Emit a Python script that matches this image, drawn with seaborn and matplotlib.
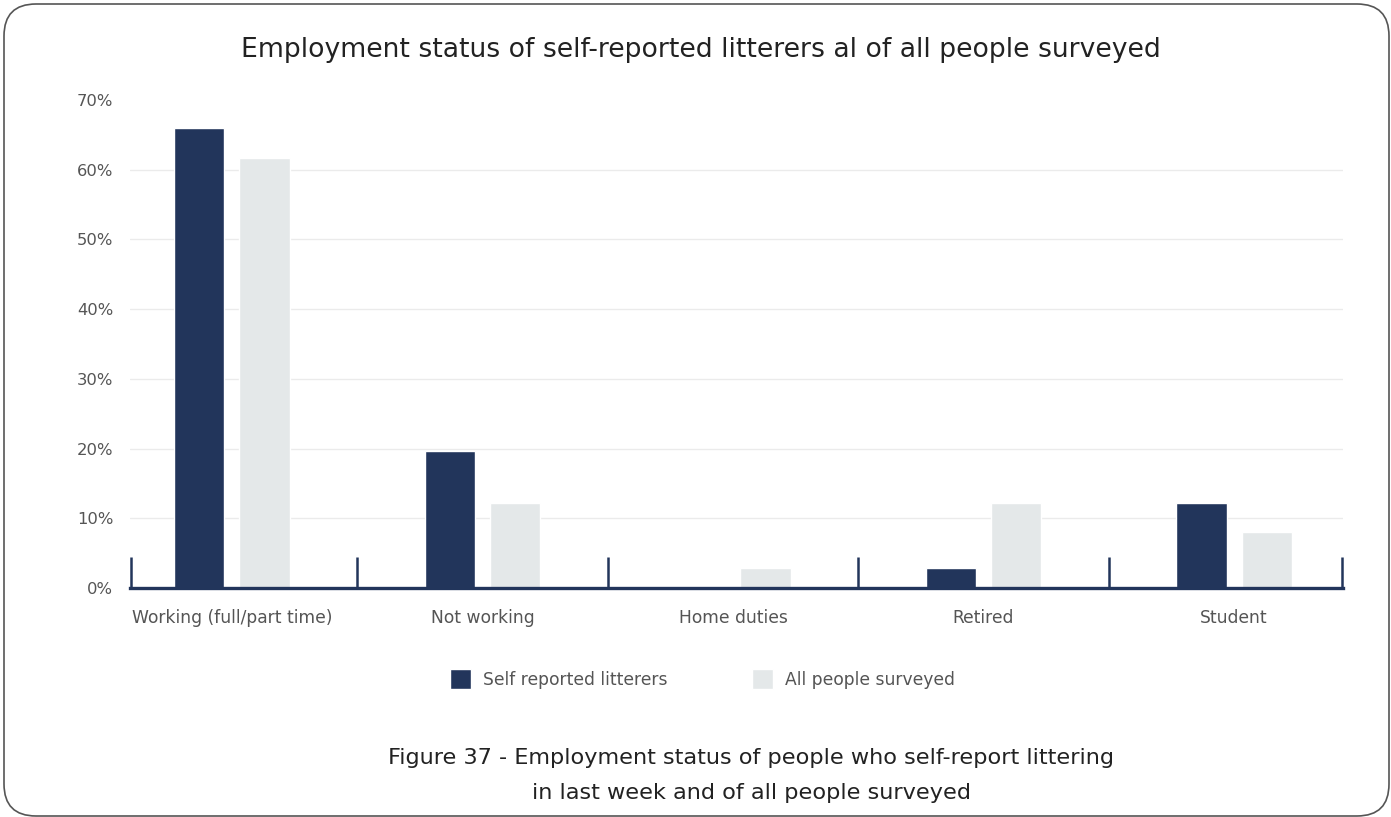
import matplotlib
matplotlib.use("Agg")
import matplotlib.pyplot as plt
from matplotlib.patches import FancyBboxPatch
from matplotlib.ticker import FixedLocator, PercentFormatter
import pandas as pd
import seaborn as sns

# donnees
categories = ["Working (full/part time)", "Not working", "Home duties", "Retired", "Student"]
litterers = [0.66, 0.197, 0.0, 0.029, 0.122]
all_people = [0.617, 0.122, 0.029, 0.122, 0.080]
groups = ["Self reported litterers", "All people surveyed"]

NAVY = "#22355B"
LIGHT = "#E4E8E9"
TXT = "#555555"

df = pd.DataFrame({
    "status": categories * 2,
    "value": litterers + all_people,
    "group": [groups[0]] * len(categories) + [groups[1]] * len(categories),
})

sns.set_theme(style="white")
plt.rcParams["font.family"] = ["DejaVu Sans"]

fig = plt.figure(figsize=(13.91, 8.17), dpi=100)
ax = fig.add_axes([130 / 1391, 1 - 588 / 817, (1343 - 130) / 1391, (588 - 100) / 817])

sns.barplot(data=df, x="status", y="value", hue="group", palette=[NAVY, LIGHT],
            width=0.52, gap=0.23, saturation=1, ax=ax)

ax.set_xlim(-0.407, 4.435)
ax.set_ylim(0, 0.70)
ax.set_yticks([i / 10 for i in range(8)])
ax.yaxis.set_major_formatter(PercentFormatter(1.0, decimals=0))
ax.set_xlabel("")
ax.set_ylabel("")

# grille horizontale claire, pas de ligne a 70%
ax.grid(axis="y", color="#EBEBEB", linewidth=1)
ax.set_axisbelow(True)
ax.yaxis.get_gridlines()[-1].set_visible(False)

for s in ["top", "right", "left"]:
    ax.spines[s].set_visible(False)
ax.spines["bottom"].set_color(NAVY)
ax.spines["bottom"].set_linewidth(2.4)

ax.tick_params(axis="y", length=0, pad=12, labelsize=11.8, labelcolor=TXT)
ax.tick_params(axis="x", which="major", length=0, pad=15, labelsize=12.3, labelcolor=TXT)
# petits traits verticaux entre les categories
ax.xaxis.set_minor_locator(FixedLocator([-0.404, 0.5, 1.5, 2.5, 3.5, 4.432]))
ax.tick_params(axis="x", which="minor", bottom=True, direction="in", length=22,
               width=1.8, color=NAVY)

sns.move_legend(ax, "center", bbox_to_anchor=(0.505, 1 - 679 / 817),
                bbox_transform=fig.transFigure, ncol=2, frameon=False, title=None,
                fontsize=12.3, handlelength=1.23, handleheight=1.35,
                handletextpad=0.75, columnspacing=4.9)
for t in ax.get_legend().get_texts():
    t.set_color(TXT)

fig.text(0.504, 1 - 50 / 817, "Employment status of self-reported litterers al of all people surveyed",
         ha="center", va="center", fontsize=19.2, color="#222222")
fig.text(0.54, 1 - 775.5 / 817,
         "Figure 37 - Employment status of people who self-report littering\nin last week and of all people surveyed",
         ha="center", va="center", fontsize=16.1, color="#222222",
         linespacing=1.95)

# cadre arrondi autour de la figure
frame = FancyBboxPatch((0.04, 0.01), 13.85, 8.12, boxstyle="round,pad=0,rounding_size=0.32",
                       transform=fig.dpi_scale_trans, fill=False, edgecolor="#555555",
                       linewidth=1.2)
fig.patches.append(frame)

fig.savefig("out.png", dpi=100)
